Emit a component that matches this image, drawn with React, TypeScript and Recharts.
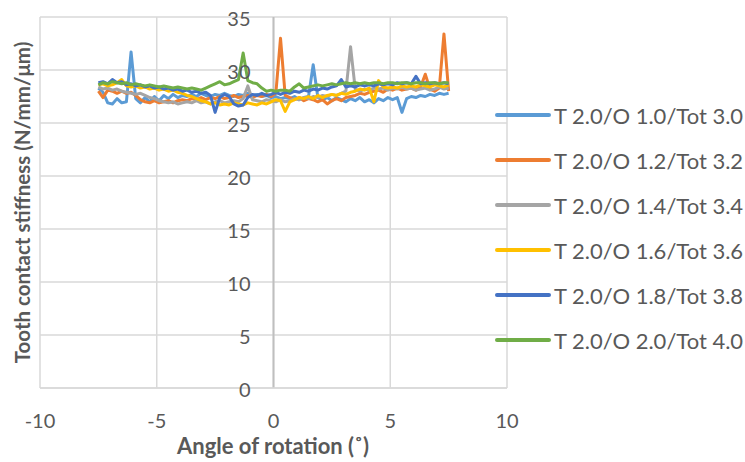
import React from "react";
import {
  LineChart,
  Line,
  XAxis,
  YAxis,
  CartesianGrid,
  ReferenceLine,
} from "recharts";

// Angle of rotation (deg), 0.2 deg steps
const ANGLES = [
  -7.5, -7.3, -7.1, -6.9, -6.7, -6.5, -6.3, -6.1, -5.9, -5.7,
  -5.5, -5.3, -5.1, -4.9, -4.7, -4.5, -4.3, -4.1, -3.9, -3.7,
  -3.5, -3.3, -3.1, -2.9, -2.7, -2.5, -2.3, -2.1, -1.9, -1.7,
  -1.5, -1.3, -1.1, -0.9, -0.7, -0.5, -0.3, -0.1, 0.1, 0.3,
  0.5, 0.7, 0.9, 1.1, 1.3, 1.5, 1.7, 1.9, 2.1, 2.3,
  2.5, 2.7, 2.9, 3.1, 3.3, 3.5, 3.7, 3.9, 4.1, 4.3,
  4.5, 4.7, 4.9, 5.1, 5.3, 5.5, 5.7, 5.9, 6.1, 6.3,
  6.5, 6.7, 6.9, 7.1, 7.3, 7.5,
];

// Tooth contact stiffness (N/mm/um) per configuration
const O10 = [
  28.3, 27.9, 26.9, 26.8, 27.3, 26.9, 27.0, 31.7, 27.3, 26.9,
  27.4, 27.0, 27.5, 27.1, 27.6, 27.3, 27.7, 27.4, 27.6, 27.5,
  27.7, 27.5, 27.8, 27.6, 27.5, 27.7, 27.6, 27.8, 27.6, 27.5,
  27.7, 27.6, 27.8, 27.6, 27.7, 27.5, 27.6, 27.4, 27.5, 27.3,
  27.4, 27.3, 27.5, 27.2, 27.4, 27.5, 30.5, 27.4, 27.2, 27.4,
  27.1, 27.4, 27.2, 27.0, 27.3, 27.1, 27.4, 27.0, 27.2, 26.9,
  27.3, 27.1, 27.4, 27.2, 27.4, 26.0, 27.3, 27.5, 27.4, 27.6,
  27.5, 27.7, 27.6, 27.8, 27.7, 27.8,
];

const O12 = [
  28.0, 27.4, 28.1, 28.0, 27.8, 28.0, 27.8, 27.9, 27.6, 27.2,
  27.0, 26.9, 27.1, 26.9, 27.0, 27.1, 26.9, 27.1, 27.2, 27.1,
  27.3, 27.2, 27.4, 27.2, 27.4, 27.3, 27.5, 27.3, 27.4, 27.6,
  27.4, 27.5, 27.6, 27.4, 27.6, 27.5, 27.7, 27.5, 27.8, 33.0,
  27.6, 27.4, 27.2, 27.4, 27.1, 27.3, 27.2, 27.0, 27.2, 26.8,
  27.1, 27.3, 27.1, 27.4, 27.5, 27.6, 27.8, 27.7, 27.9, 28.0,
  28.1, 27.9, 28.2, 28.1, 28.3, 28.1, 28.2, 28.3, 28.1, 28.4,
  29.6, 28.2, 28.0, 28.3, 33.4, 28.0,
];

const O14 = [
  28.4, 28.2, 28.3, 28.1, 28.2, 28.0, 27.9, 27.8, 27.7, 27.8,
  27.6, 27.4, 27.3, 27.1, 27.0, 26.9, 27.0, 26.8, 26.9, 27.0,
  26.9, 27.1, 26.9, 27.0, 26.8, 27.0, 27.1, 26.9, 27.0, 27.1,
  27.0, 27.3, 28.5, 27.2, 27.1, 27.0, 27.2, 27.1, 27.0, 27.2,
  27.0, 27.1, 27.3, 27.2, 27.4, 27.3, 27.5, 27.4, 27.6, 27.5,
  27.7, 27.6, 27.8, 28.0, 32.2, 28.2, 28.0, 28.2, 28.1, 28.3,
  28.2, 28.3, 28.1, 28.3, 28.2, 28.4, 28.2, 28.3, 28.1, 28.2,
  28.3, 28.1, 28.2, 28.4, 28.2, 28.3,
];

const O16 = [
  28.6, 28.7, 28.5, 28.6, 28.8, 29.1, 28.5, 28.4, 28.5, 28.3,
  28.4, 28.2, 28.3, 28.1, 28.2, 28.0, 28.1, 27.9, 27.8, 27.6,
  27.5, 27.3, 27.1, 27.0, 26.8, 26.9, 26.7, 26.8, 26.7, 26.9,
  26.8, 26.7, 26.9, 26.8, 26.7, 26.9, 26.8, 27.0, 27.2, 27.1,
  26.1, 27.0, 27.2, 27.4, 27.3, 27.5, 27.3, 27.6, 27.4, 27.6,
  27.7, 27.6, 27.8, 27.7, 27.9, 28.0, 28.2, 28.1, 28.3, 27.0,
  29.0, 28.4, 28.3, 28.4, 28.3, 28.5, 28.4, 28.5, 28.4, 28.6,
  28.5, 28.4, 28.6, 28.5, 28.4, 28.6,
];

const O18 = [
  28.8, 28.9, 28.7, 29.1, 28.8, 28.9, 28.6, 28.7, 28.5, 28.6,
  28.4, 28.5, 28.3, 28.4, 28.2, 28.3, 28.1, 28.2, 28.0, 28.1,
  27.9, 28.0, 27.8, 27.9, 27.6, 26.0, 27.4, 27.7, 27.5, 26.8,
  26.6, 26.7, 27.4, 27.7, 27.6, 27.8, 27.6, 27.7, 27.9, 27.7,
  27.9, 27.8, 28.0, 27.9, 28.1, 28.0, 28.2, 28.1, 28.3, 28.2,
  28.4, 28.5, 29.1, 28.4, 28.5, 28.4, 28.6, 28.5, 28.6, 28.5,
  28.7, 28.6, 28.7, 28.6, 28.8, 28.7, 28.8, 28.7, 29.4, 28.7,
  28.8, 28.7, 28.8, 28.7, 28.8, 28.7,
];

const O20 = [
  28.6, 28.8, 28.7, 28.9, 28.8, 28.7, 28.8, 28.6, 28.7, 28.6,
  28.5, 28.6, 28.5, 28.4, 28.5, 28.4, 28.3, 28.4, 28.3, 28.2,
  28.3, 28.2, 28.1, 28.3, 28.5, 28.7, 28.9, 28.6, 28.7, 28.9,
  29.1, 31.6, 29.0, 28.8, 28.7, 28.3, 28.0, 28.1, 28.0, 28.1,
  28.1, 28.0, 28.4, 28.7, 28.3, 28.4, 28.5, 28.6, 28.5, 28.6,
  28.7, 28.6, 28.7, 28.8, 28.7, 28.8, 28.7, 28.8, 28.7, 28.8,
  28.8, 28.7, 28.8, 28.8, 28.7, 28.8, 28.8, 28.7, 28.8, 28.8,
  28.7, 28.8, 28.8, 28.7, 28.8, 28.8,
];

const SERIES = [
  { key: "o10", name: "T 2.0/O 1.0/Tot 3.0", values: O10, color: "#5b9bd5" },
  { key: "o12", name: "T 2.0/O 1.2/Tot 3.2", values: O12, color: "#ed7d31" },
  { key: "o14", name: "T 2.0/O 1.4/Tot 3.4", values: O14, color: "#a5a5a5" },
  { key: "o16", name: "T 2.0/O 1.6/Tot 3.6", values: O16, color: "#ffc000" },
  { key: "o18", name: "T 2.0/O 1.8/Tot 3.8", values: O18, color: "#4472c4" },
  { key: "o20", name: "T 2.0/O 2.0/Tot 4.0", values: O20, color: "#70ad47" },
];

const X_TICKS = [-10, -5, 0, 5, 10];
const Y_TICKS = [0, 5, 10, 15, 20, 25, 30, 35];

const rows = ANGLES.map((angle, i) => {
  const row: Record<string, number> = { angle };
  SERIES.forEach((s) => {
    row[s.key] = s.values[i];
  });
  return row;
});

const W = 745;
const H = 462;
// axes take 1px each, so the plot spans x 40..507, y 17..388
const MARGIN = { top: 17, right: 238, bottom: 73, left: 39 };
const PLOT_LEFT = MARGIN.left + 1;
const PLOT_W = W - PLOT_LEFT - MARGIN.right;
const PLOT_BOTTOM = H - MARGIN.bottom - 1;
// the value axis crosses at angle 0
const ZERO_X = PLOT_LEFT + (PLOT_W * (0 - X_TICKS[0])) / (X_TICKS[4] - X_TICKS[0]);

const FONT = "Lato, 'Open Sans', sans-serif";
const TEXT = "#595959";

function XTick({ x, payload }: any) {
  return (
    <text x={x} y={PLOT_BOTTOM + 40} textAnchor="middle" fontFamily={FONT} fontSize={20} fill={TEXT}>
      {payload.value}
    </text>
  );
}

function YTick({ y, payload }: any) {
  return (
    <text x={ZERO_X - 23} y={y + 9} textAnchor="end" fontFamily={FONT} fontSize={20} fill={TEXT}>
      {payload.value}
    </text>
  );
}

function LegendBox() {
  return (
    <div
      style={{
        position: "absolute",
        left: 495,
        top: 92.5,
        fontFamily: FONT,
        fontSize: 22,
        color: TEXT,
      }}
    >
      {SERIES.map((s) => (
        <div key={s.key} style={{ height: 45, display: "flex", alignItems: "center" }}>
          <svg width={56} height={6} style={{ flex: "none" }}>
            <line x1={2} y1={3} x2={54} y2={3} stroke={s.color} strokeWidth={4} strokeLinecap="round" />
          </svg>
          <span style={{ marginLeft: 3, whiteSpace: "nowrap" }}>{s.name}</span>
        </div>
      ))}
    </div>
  );
}

export default function App() {
  return (
    <div style={{ position: "relative", width: W, height: H, background: "#fff" }}>
      <style>{"body{margin:0}"}</style>
      <LineChart width={W} height={H} data={rows} margin={MARGIN}>
        <CartesianGrid stroke="#d9d9d9" strokeWidth={1.5} />
        <XAxis
          type="number"
          dataKey="angle"
          domain={[X_TICKS[0], X_TICKS[4]]}
          ticks={X_TICKS}
          height={1}
          tickSize={0}
          tickMargin={0}
          tickLine={false}
          axisLine={{ stroke: "#d9d9d9", strokeWidth: 1.5 }}
          tick={<XTick />}
          interval={0}
        />
        <YAxis
          type="number"
          domain={[0, 35]}
          ticks={Y_TICKS}
          width={1}
          tickSize={0}
          tickLine={false}
          axisLine={false}
          tick={<YTick />}
          interval={0}
        />
        <ReferenceLine x={0} stroke="#bfbfbf" strokeWidth={2} />
        {SERIES.map((s) => (
          <Line
            key={s.key}
            dataKey={s.key}
            name={s.name}
            stroke={s.color}
            strokeWidth={3}
            strokeLinejoin="round"
            dot={false}
            isAnimationActive={false}
          />
        ))}
        <text
          x={273}
          y={454}
          textAnchor="middle"
          fontFamily={FONT}
          fontSize={22}
          fontWeight="bold"
          fill={TEXT}
        >
          Angle of rotation (˚)
        </text>
        <text
          transform={`translate(30 ${(MARGIN.top + PLOT_BOTTOM) / 2}) rotate(-90)`}
          textAnchor="middle"
          fontFamily={FONT}
          fontSize={20.5}
          fontWeight="bold"
          fill={TEXT}
        >
          Tooth contact stiffness (N/mm/μm)
        </text>
      </LineChart>
      <LegendBox />
    </div>
  );
}
